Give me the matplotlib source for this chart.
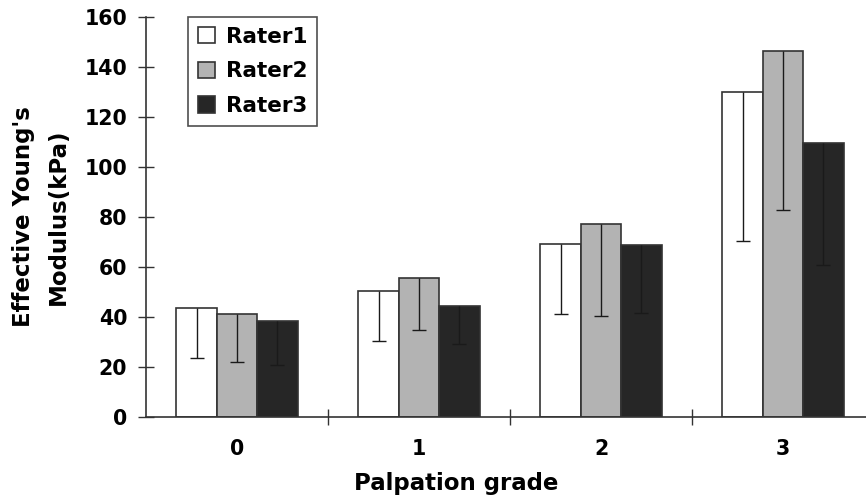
import numpy as np
import matplotlib.pyplot as plt

plt.rcParams['font.family'] = ['DejaVu Sans']
plt.rcParams['font.weight'] = 'bold'

grades = ['0', '1', '2', '3']
raters = ['Rater1', 'Rater2', 'Rater3']
rater1 = [43.7, 50.5, 69.3, 130.1]
rater2 = [41.1, 55.7, 77.1, 146.5]
rater3 = [38.4, 44.4, 68.8, 109.6]
rater1_low = [23.7, 30.3, 41.1, 70.3]
rater2_low = [22.0, 34.7, 40.5, 82.8]
rater3_low = [20.9, 29.2, 41.7, 60.9]

colors = ['white', '#b3b3b3', '#262626']
edge = '#333333'
fs = 14.8

fig = plt.figure(figsize=(8.66, 4.99), dpi=100)
ax = fig.add_axes([146 / 866, 82 / 499, 728 / 866, 400 / 499])

x = np.arange(len(grades))
w = 0.222
for i, (vals, low) in enumerate(zip([rater1, rater2, rater3],
                                    [rater1_low, rater2_low, rater3_low])):
    pos = x + (i - 1) * w
    vals = np.array(vals)
    err = [vals - np.array(low), np.zeros(len(vals))]
    ax.bar(pos, vals, w, color=colors[i], edgecolor=edge, linewidth=1.2,
           label=raters[i], zorder=2)
    eb = ax.errorbar(pos, vals, yerr=err, fmt='none', ecolor='#1a1a1a',
                     elinewidth=1.0, capsize=5, capthick=1.0, zorder=3)
    # only the lower half of each error bar is drawn
    eb[1][1].set_visible(False)

ax.set_xlim(-0.5, 3.5)
ax.set_ylim(0, 160)
ax.set_yticks(range(0, 161, 20))
ax.set_xticks(x)
ax.set_xticklabels(grades)
ax.set_xticks([0.5, 1.5, 2.5], minor=True)
ax.tick_params(axis='x', which='major', length=0, pad=16, labelsize=fs)
ax.tick_params(axis='x', which='minor', direction='inout', length=12,
               width=1, color='#333333')
ax.tick_params(axis='y', direction='inout', length=12, width=1,
               color='#333333', labelsize=fs, pad=7.5)

for s in ['top', 'right']:
    ax.spines[s].set_visible(False)
for s in ['left', 'bottom']:
    ax.spines[s].set_color('#333333')
    ax.spines[s].set_linewidth(1.2)

ax.set_xlabel('Palpation grade', fontsize=16.5, fontweight='bold',
              labelpad=9.5, x=0.426)
ax.set_ylabel("Effective Young's\nModulus(kPa)", fontsize=16.5,
              fontweight='bold', labelpad=10.5, linespacing=1.65)

leg = ax.legend(loc='upper left', bbox_to_anchor=(0.058, 1.0), fontsize=15.5,
                frameon=True, fancybox=False, edgecolor='#222222',
                handlelength=0.8, handleheight=0.8, handletextpad=0.5,
                borderpad=0.45, labelspacing=0.68, borderaxespad=0)
leg.get_frame().set_linewidth(1.2)

fig.savefig('out.png', dpi=100)
